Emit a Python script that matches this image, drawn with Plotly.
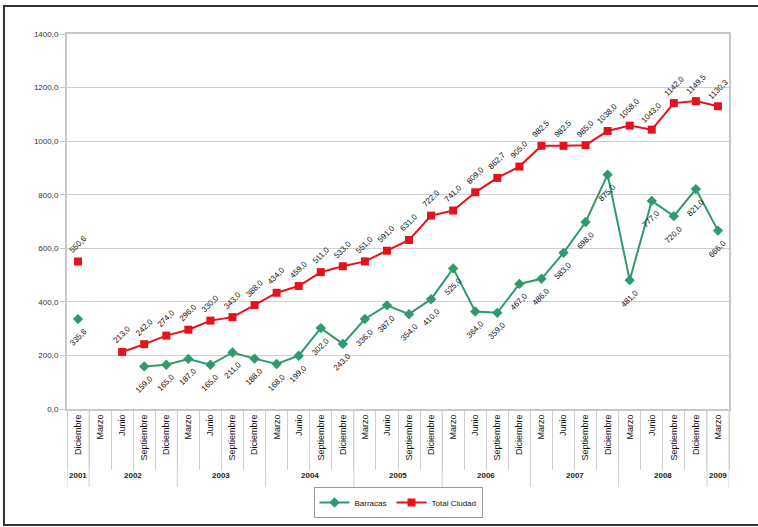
import plotly.graph_objects as go

years = ["2001",
         "2002", "2002", "2002", "2002",
         "2003", "2003", "2003", "2003",
         "2004", "2004", "2004", "2004",
         "2005", "2005", "2005", "2005",
         "2006", "2006", "2006", "2006",
         "2007", "2007", "2007", "2007",
         "2008", "2008", "2008", "2008",
         "2009"]
months = ["Diciembre",
          "Marzo", "Junio", "Septiembre", "Diciembre",
          "Marzo", "Junio", "Septiembre", "Diciembre",
          "Marzo", "Junio", "Septiembre", "Diciembre",
          "Marzo", "Junio", "Septiembre", "Diciembre",
          "Marzo", "Junio", "Septiembre", "Diciembre",
          "Marzo", "Junio", "Septiembre", "Diciembre",
          "Marzo", "Junio", "Septiembre", "Diciembre",
          "Marzo"]

barracas = [335.6,
            None, None, 159.0, 165.0,
            187.0, 165.0, 211.0, 188.0,
            168.0, 199.0, 302.0, 243.0,
            336.0, 387.0, 354.0, 410.0,
            525.0, 364.0, 359.0, 467.0,
            486.0, 583.0, 698.0, 875.0,
            481.0, 777.0, 720.0, 821.0,
            666.0]
total_ciudad = [550.6,
                None, 213.0, 242.0, 274.0,
                296.0, 330.0, 343.0, 388.0,
                434.0, 459.0, 511.0, 533.0,
                551.0, 591.0, 631.0, 722.0,
                741.0, 809.0, 862.7, 905.0,
                982.5, 982.5, 985.0, 1038.0,
                1058.0, 1043.0, 1142.0, 1149.5,
                1130.3]

y_ticks = [0, 200, 400, 600, 800, 1000, 1200, 1400]

GREEN = "#2f9a6c"
RED = "#e8101a"
FONT = "Liberation Sans, Arial, sans-serif"

idx = list(range(len(months)))

fig = go.Figure()
fig.add_trace(go.Scatter(
    x=idx, y=barracas, name="Barracas", mode="lines+markers",
    line=dict(color=GREEN, width=2), marker=dict(symbol="diamond", size=8, color=GREEN),
    connectgaps=False))
fig.add_trace(go.Scatter(
    x=idx, y=total_ciudad, name="Total Ciudad", mode="lines+markers",
    line=dict(color=RED, width=2), marker=dict(symbol="square", size=8, color=RED),
    connectgaps=False))

def fmt(v):
    return f"{v:.1f}".replace(".", ",")

for i, v in zip(idx, total_ciudad):
    if v is None:
        continue
    fig.add_annotation(x=i, y=v, text=fmt(v), showarrow=False, textangle=-45,
                       yshift=17, font=dict(family=FONT, size=8, color="#111"))
for i, v in zip(idx, barracas):
    if v is None:
        continue
    fig.add_annotation(x=i, y=v, text=fmt(v), showarrow=False, textangle=-45,
                       yshift=-18, font=dict(family=FONT, size=8, color="#111"))

# year groups: labels and dividers derived from the years list
shapes = [dict(type="rect", xref="paper", yref="paper", x0=-0.0952, x1=1.06,
               y0=-0.309, y1=1.0747, line=dict(color="#333", width=2), layer="below")]
groups = []
for i, yr in enumerate(years):
    if groups and groups[-1][0] == yr:
        groups[-1][2] = i
    else:
        groups.append([yr, i, i])
bounds = sorted({g[1] - 0.5 for g in groups} | {groups[-1][2] + 0.5})
for b in bounds:
    shapes.append(dict(type="line", xref="x", yref="paper", x0=b, x1=b,
                       y0=0, y1=-0.208, line=dict(color="#d0d0d0", width=1)))
for yr, a, b in groups:
    fig.add_annotation(x=(a + b) / 2, y=-0.176, xref="x", yref="paper", text=f"<b>{yr}</b>",
                       showarrow=False, yanchor="middle",
                       font=dict(family=FONT, size=8, color="#222"))

fig.update_layout(
    width=758, height=527,
    margin=dict(l=67, r=29, t=34, b=118, autoexpand=False),
    paper_bgcolor="white", plot_bgcolor="white",
    separators=",.",
    font=dict(family=FONT, size=8, color="#333"),
    showlegend=True,
    legend=dict(orientation="h", x=0.5, xanchor="center", y=-0.208, yanchor="top",
                bordercolor="#999", borderwidth=1, font=dict(size=8, color="#111"),
                itemwidth=30, tracegroupgap=0),
    shapes=shapes,
)
fig.update_yaxes(range=[0, 1400], tickvals=y_ticks, tickformat=".1f",
                 showgrid=True, gridcolor="#cfcfcf", gridwidth=1,
                 showline=True, linecolor="#c8c8c8", linewidth=2, mirror=True,
                 ticks="outside", ticklen=5, tickcolor="#c8c8c8", automargin=False,
                 tickfont=dict(size=8, color="#333"), zeroline=False)
fig.update_xaxes(range=[-0.5, len(months) - 0.5], tickmode="array",
                 tickvals=idx, ticktext=months, tickangle=-90, ticks="",
                 minor=dict(tickmode="array", tickvals=[i - 0.5 for i in idx] + [len(months) - 0.5],
                            ticks="outside", ticklen=59, tickcolor="#d0d0d0", showgrid=False),
                 showline=True, linecolor="#c8c8c8", linewidth=2, mirror=True, automargin=False,
                 tickfont=dict(size=9, color="#111"), showgrid=False, zeroline=False)

fig.write_html("out.html", config={"displayModeBar": False},
               post_script="document.body.style.margin='0';")
